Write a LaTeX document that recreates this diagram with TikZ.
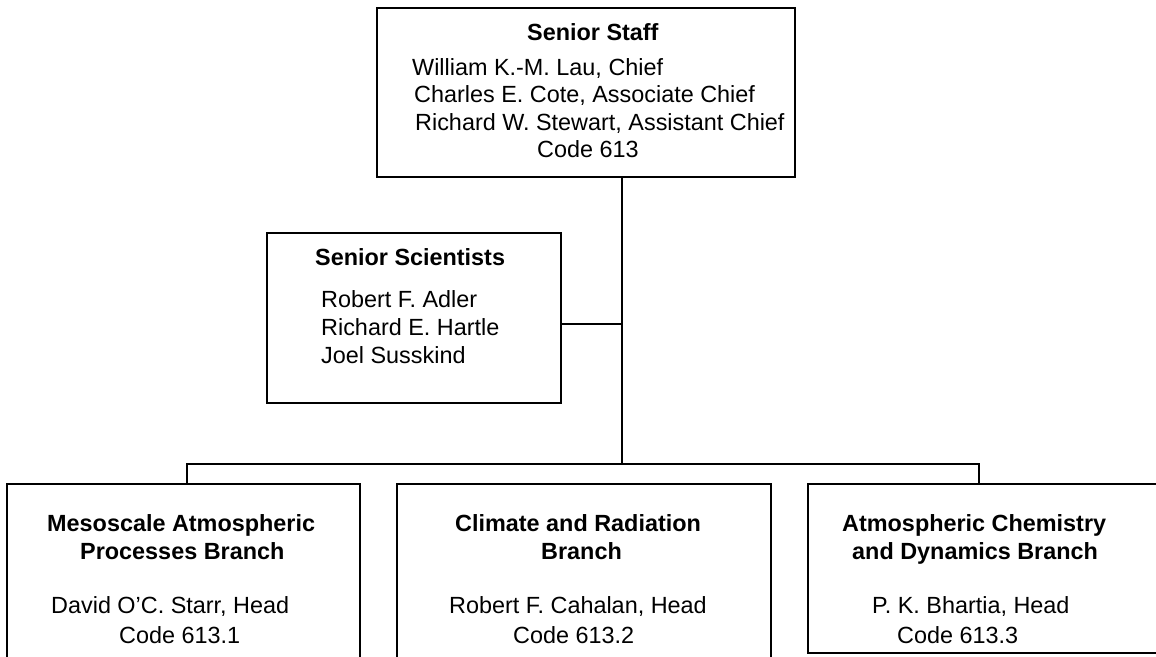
\documentclass[tikz,border=0pt]{standalone}
\usepackage{fontspec}
\setmainfont{Liberation Sans}
\begin{document}
\begin{tikzpicture}[x=1pt,y=-1pt,
  box/.style={draw=black, line width=2pt, rectangle, inner sep=0pt},
  conn/.style={draw=black, line width=1.8pt},
  txt/.style={anchor=base west, inner sep=0pt, font=\fontsize{23.4}{27.5}\selectfont},
  btxt/.style={anchor=base west, inner sep=0pt, font=\fontsize{23.4}{27.5}\selectfont\bfseries}]
\useasboundingbox (0,0) rectangle (1156,656);
\clip (0,0) rectangle (1156,656);
\fill[white] (0,0) rectangle (1156,656);
% boxes
\node[box, minimum width=418pt, minimum height=169pt] (staff) at (586,92.5) {};
\node[box, minimum width=294pt, minimum height=170pt] (sci) at (414,318) {};
\node[box, minimum width=353pt, minimum height=232pt] (meso) at (183.5,600) {};
\node[box, minimum width=374pt, minimum height=232pt] (clim) at (584,600) {};
\node[box, minimum width=362pt, minimum height=169pt] (chem) at (989,568.5) {};
% connectors
\coordinate (j) at (622,464);
\coordinate (sj) at (622,324);
\coordinate (bl) at (187,464);
\coordinate (br) at (979,464);
\draw[conn] (staff.south -| j) -- (j);
\draw[conn] (sj -| sci.east) -- (sj);
\draw[conn] (meso.north -| bl) -- (bl) -- (br) -- (chem.north -| br);
% senior staff text
\node[btxt] (s0) at (527,40) {Senior Staff};
\node[txt] (s1) at (412,75) {William K.-M. Lau, Chief};
\node[txt] (s2) at (414,102) {Charles E. Cote, Associate Chief};
\node[txt] (s3) at (415,130) {Richard W. Stewart, Assistant Chief};
\node[txt] (s4) at (537,157) {Code 613};
% senior scientists
\node[btxt] (c0) at (315,265) {Senior Scientists};
\node[txt] (c1) at (321,307) {Robert F. Adler};
\node[txt] (c2) at (321,335) {Richard E. Hartle};
\node[txt] (c3) at (321,363) {Joel Susskind};
% branches
\node[btxt] (m0) at (47,531) {Mesoscale Atmospheric};
\node[btxt] (m1) at (80,559) {Processes Branch};
\node[txt] (m2) at (51,613) {David O’C. Starr, Head};
\node[txt] (m3) at (119,643) {Code 613.1};
\node[btxt] (r0) at (455,531) {Climate and Radiation};
\node[btxt] (r1) at (541,559) {Branch};
\node[txt] (r2) at (449,613) {Robert F. Cahalan, Head};
\node[txt] (r3) at (513,643) {Code 613.2};
\node[btxt] (a0) at (842,531) {Atmospheric Chemistry};
\node[btxt] (a1) at (852,559) {and Dynamics Branch};
\node[txt] (a2) at (872,613) {P. K. Bhartia, Head};
\node[txt] (a3) at (897,643) {Code 613.3};
\end{tikzpicture}
\end{document}
